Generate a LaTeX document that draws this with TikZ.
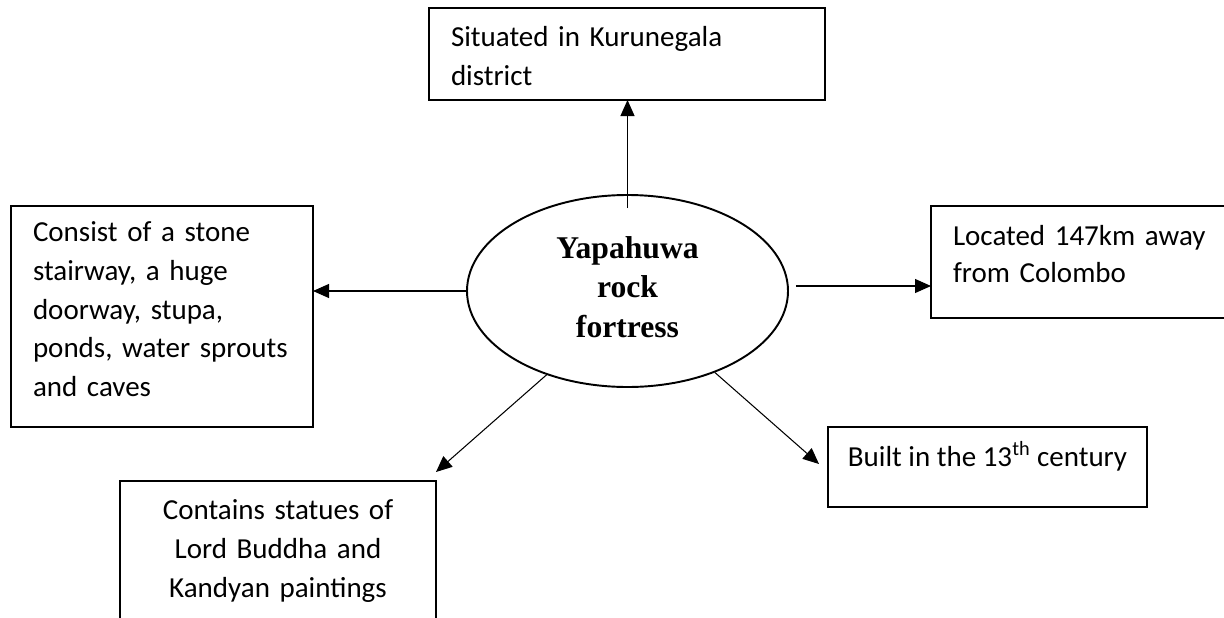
\documentclass[tikz,border=0pt]{standalone}
\usepackage{fontspec}
\setmainfont{Carlito}
\newfontfamily\hubfont{Liberation Serif}
\usetikzlibrary{arrows.meta,shapes.geometric}

\begin{document}
\begin{tikzpicture}[
    box/.style={draw,line width=0.9pt,anchor=north west,outer sep=0pt,inner xsep=0.44cm,inner ysep=0pt,align=left,font=\fontsize{16.5}{22}\selectfont},
    arr/.style={-{Triangle[length=0.32cm,width=0.28cm]},line width=0.6pt}
  ]
    \useasboundingbox (0,0) rectangle (24.48,12.34);
    \clip (0,0) rectangle (24.48,12.34);
    % centre ellipse
    \node[draw,ellipse,line width=1.1pt,minimum width=6.42cm,minimum height=3.84cm,inner sep=0pt,align=center,text depth=4.6pt,
      font=\hubfont\bfseries\fontsize{18}{22.4}\selectfont] (hub) at (12.55,6.52) {Yapahuwa\\rock\\fortress};
    % top box
    \node[box,text width=7.04cm,minimum height=1.84cm,text depth=19.5pt] (district) at (8.58,12.18)
      {Situated in Kurunegala\\district};
    % left box
    \node[box,text width=5.16cm,minimum height=4.42cm,text depth=96.5pt] (layout) at (0.22,8.22)
      {Consist of a stone\\stairway, a huge\\doorway, stupa,\\ponds, water sprouts\\and caves};
    % right box (runs off the page)
    \node[box,text width=5.7cm,minimum height=2.24cm,text depth=29.7pt,font=\fontsize{16.5}{20.8}\selectfont] (distance) at (18.62,8.22)
      {Located 147km away\\from Colombo};
    % bottom right box
    \node[box,minimum width=6.38cm,minimum height=1.6cm,inner xsep=0.3cm,text depth=15pt,align=center] (century) at (16.56,3.8)
      {Built in the 13\textsuperscript{th} century};
    % bottom box (runs off the page)
    \node[box,text width=5.44cm,minimum height=2.8cm,align=center] (statues) at (2.4,2.72)
      {Contains statues of\\Lord Buddha and\\Kandyan paintings};
    % arrows
    \coordinate (hubE) at ([xshift=1.4mm,yshift=1mm]hub.east);
    \draw[arr] ([yshift=-2.8mm]hub.north) -- (hub.north |- district.south);
    \draw[arr] (hub.west) -- (hub.west -| layout.east);
    \draw[arr] (hubE) -- (hubE -| distance.west);
    \draw[arr] (hub.226) -- ([yshift=1.8mm]statues.north east);
    \draw[arr] (hub.317) -- ([xshift=-1.8mm,yshift=0.6mm]century.west);
  \end{tikzpicture}
\end{document}
